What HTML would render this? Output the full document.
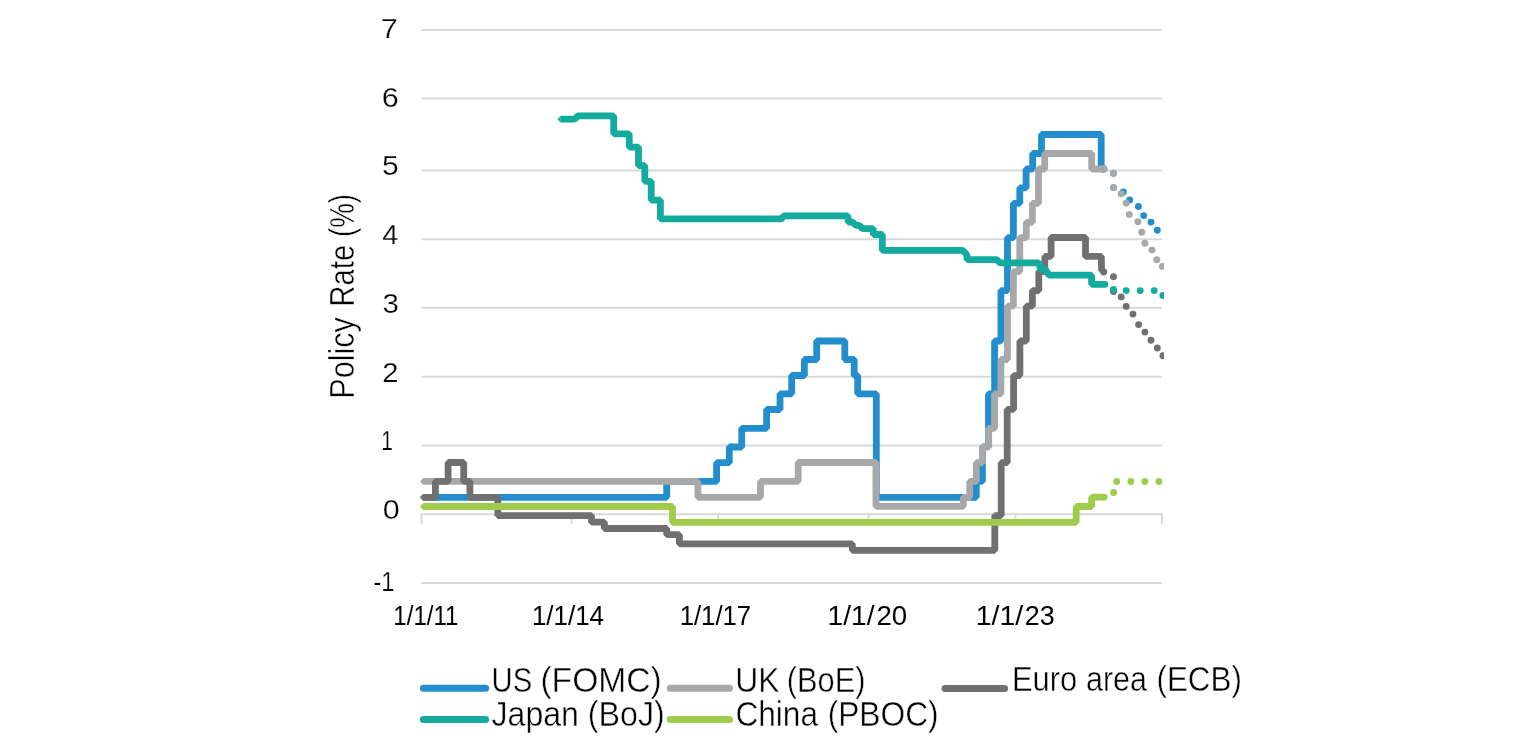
<!DOCTYPE html>
<html lang="en">
<head>
<meta charset="utf-8">
<title>Policy Rate (%)</title>
<style>
html,body{margin:0;padding:0;background:#fff;}
body{width:1539px;height:743px;overflow:hidden;}
svg{display:block;}
text{font-family:"Liberation Sans",sans-serif;fill:#000;}
.big{stroke:#fff;stroke-width:0.45px;}
.ylab{stroke:#fff;stroke-width:0.25px;}
.lab{font-size:27px;}
.big{font-size:34.5px;}
</style>
</head>
<body>
<svg width="1539" height="743" viewBox="0 0 1539 743">
<rect width="1539" height="743" fill="#fff"/>
<defs><clipPath id="plot"><rect x="410" y="0" width="754" height="640"/></clipPath></defs>
<g stroke="#D8D8D8" stroke-width="2" fill="none">
<line x1="421.5" y1="30.0" x2="1162.0" y2="30.0"/>
<line x1="421.5" y1="98.6" x2="1162.0" y2="98.6"/>
<line x1="421.5" y1="170.5" x2="1162.0" y2="170.5"/>
<line x1="421.5" y1="239.2" x2="1162.0" y2="239.2"/>
<line x1="421.5" y1="307.7" x2="1162.0" y2="307.7"/>
<line x1="421.5" y1="376.7" x2="1162.0" y2="376.7"/>
<line x1="421.5" y1="445.5" x2="1162.0" y2="445.5"/>
<line x1="421.5" y1="583.0" x2="1162.0" y2="583.0"/>
<line x1="420.5" y1="514.2" x2="1163.0" y2="514.2"/>
<line x1="421.4" y1="514.2" x2="421.4" y2="523.7"/>
<line x1="571.4" y1="514.2" x2="571.4" y2="523.7"/>
<line x1="718.2" y1="514.2" x2="718.2" y2="523.7"/>
<line x1="868.5" y1="514.2" x2="868.5" y2="523.7"/>
<line x1="1015.3" y1="514.2" x2="1015.3" y2="523.7"/>
<line x1="1162.0" y1="514.2" x2="1162.0" y2="523.7"/>
</g>
<g clip-path="url(#plot)" fill="none" stroke-width="6.8" stroke-linejoin="bevel" stroke-linecap="butt">
<path d="M423.0 497.3 L666.7 497.3 L666.7 481.4 L716.6 481.4 L716.6 462.7 L729.3 462.7 L729.3 447.0 L741.7 447.0 L741.7 428.3 L766.6 428.3 L766.6 409.5 L780.0 409.5 L780.0 393.8 L791.7 393.8 L791.7 375.5 L804.4 375.5 L804.4 359.5 L816.7 359.5 L816.7 341.0 L844.8 341.0 L844.8 359.5 L854.2 359.5 L854.2 375.5 L857.7 375.5 L857.7 393.8 L876.3 393.8 L876.3 497.3 L976.3 497.3 L976.3 481.4 L982.4 481.4 L982.4 446.9 L988.5 446.9 L988.5 393.8 L994.6 393.8 L994.6 341.0 L1000.9 341.0 L1000.9 290.6 L1007.5 290.6 L1007.5 237.7 L1013.4 237.7 L1013.4 203.3 L1019.8 203.3 L1019.8 187.9 L1026.1 187.9 L1026.1 169.0 L1032.7 169.0 L1032.7 153.5 L1041.5 153.5 L1041.5 134.5 L1101.2 134.5 L1101.2 168.9 L1103.8 168.9" stroke="#228ECE"/>
<path d="M423.2 493.9L420.0 497.3L423.2 500.7Z" fill="#228ECE" stroke="none"/><circle cx="1103.8" cy="168.9" r="3.4" fill="#228ECE" stroke="none"/>
<g fill="#228ECE" stroke="none"><circle cx="1103.8" cy="168.9" r="3.45"/><circle cx="1113.5" cy="173.3" r="3.45"/><circle cx="1113.5" cy="187.6" r="3.45"/><circle cx="1123.3" cy="192.0" r="3.45"/><circle cx="1129.7" cy="199.9" r="3.45"/><circle cx="1138.4" cy="206.5" r="3.45"/><circle cx="1143.7" cy="215.6" r="3.45"/><circle cx="1151.0" cy="222.1" r="3.45"/><circle cx="1157.3" cy="230.2" r="3.45"/></g>
<path d="M423.0 481.4 L697.9 481.4 L697.9 497.3 L760.5 497.3 L760.5 481.4 L798.2 481.4 L798.2 462.5 L876.0 462.5 L876.0 506.3 L963.4 506.3 L963.4 497.3 L969.7 497.3 L969.7 481.4 L976.3 481.4 L976.3 462.7 L982.4 462.7 L982.4 446.9 L988.7 446.9 L988.7 428.4 L994.6 428.4 L994.6 393.8 L1000.9 393.8 L1000.9 359.5 L1007.4 359.5 L1007.4 306.2 L1013.4 306.2 L1013.4 271.6 L1019.8 271.6 L1019.8 237.7 L1026.3 237.7 L1026.3 222.3 L1032.4 222.3 L1032.4 203.3 L1038.5 203.3 L1038.5 169.0 L1044.7 169.0 L1044.7 153.5 L1091.7 153.5 L1091.7 169.0 L1103.8 169.0" stroke="#A8A8AA"/>
<path d="M423.2 478.0L420.0 481.4L423.2 484.8Z" fill="#A8A8AA" stroke="none"/><circle cx="1103.8" cy="169.0" r="3.4" fill="#A8A8AA" stroke="none"/>
<g fill="#A8A8AA" stroke="none"><circle cx="1103.8" cy="168.9" r="3.45"/><circle cx="1113.5" cy="173.3" r="3.45"/><circle cx="1113.5" cy="187.6" r="3.45"/><circle cx="1121.2" cy="193.8" r="3.45"/><circle cx="1126.2" cy="203.0" r="3.45"/><circle cx="1129.3" cy="214.4" r="3.45"/><circle cx="1137.9" cy="221.8" r="3.45"/><circle cx="1141.7" cy="232.2" r="3.45"/><circle cx="1144.9" cy="243.3" r="3.45"/><circle cx="1152.0" cy="250.1" r="3.45"/><circle cx="1156.8" cy="259.7" r="3.45"/><circle cx="1162.4" cy="266.4" r="3.45"/></g>
<path d="M423.0 497.3 L435.4 497.3 L435.4 481.4 L448.1 481.4 L448.1 462.5 L463.7 462.5 L463.7 481.4 L469.9 481.4 L469.9 497.3 L497.8 497.3 L497.8 515.6 L591.5 515.6 L591.5 522.2 L604.4 522.2 L604.4 528.5 L666.7 528.5 L666.7 534.7 L679.4 534.7 L679.4 543.8 L852.3 543.8 L852.3 550.3 L994.8 550.3 L994.8 515.6 L1001.2 515.6 L1001.2 462.7 L1007.2 462.7 L1007.2 409.4 L1013.6 409.4 L1013.6 375.6 L1019.9 375.6 L1019.9 341.0 L1026.3 341.0 L1026.3 306.2 L1032.4 306.2 L1032.4 290.6 L1038.8 290.6 L1038.8 271.6 L1044.8 271.6 L1044.8 256.4 L1051.1 256.4 L1051.1 237.5 L1085.5 237.5 L1085.5 256.4 L1101.3 256.4 L1101.6 270.5 L1103.7 270.5 L1103.7 272.1" stroke="#707070"/>
<path d="M423.2 493.9L420.0 497.3L423.2 500.7Z" fill="#707070" stroke="none"/><circle cx="1103.7" cy="272.1" r="3.4" fill="#707070" stroke="none"/>
<g fill="#707070" stroke="none"><circle cx="1113.5" cy="276.8" r="3.45"/><circle cx="1113.5" cy="291.5" r="3.45"/><circle cx="1121.2" cy="296.9" r="3.45"/><circle cx="1126.2" cy="306.4" r="3.45"/><circle cx="1133.0" cy="314.1" r="3.45"/><circle cx="1138.6" cy="324.6" r="3.45"/><circle cx="1144.9" cy="332.1" r="3.45"/><circle cx="1151.0" cy="340.3" r="3.45"/><circle cx="1157.3" cy="348.0" r="3.45"/><circle cx="1162.9" cy="355.7" r="3.45"/></g>
<path d="M560.5 119.2 L574.6 119.2 L578.0 115.8 L613.6 115.8 L613.8 133.9 L629.0 133.9 L629.2 134.9 L629.2 134.9 L629.3 147.1 L638.5 147.1 L638.5 165.6 L644.8 165.6 L644.8 181.4 L651.2 181.4 L651.2 200.2 L660.4 200.2 L660.4 218.9 L781.0 218.9 L784.4 215.8 L847.9 215.8 L848.2 222.1 L852.6 222.1 L856.0 225.4 L859.5 225.4 L862.3 228.6 L873.2 228.6 L873.5 234.5 L882.3 234.5 L882.3 250.4 L962.4 250.4 L966.8 254.2 L966.9 254.2 L967.1 259.6 L996.5 259.6 L999.9 262.8 L1038.9 262.8 L1040.4 269.3 L1045.2 269.3 L1049.1 275.2 L1091.6 275.2 L1091.6 284.3 L1104.8 284.3" stroke="#12AB9D"/>
<path d="M560.7 115.8L557.5 119.2L560.7 122.6Z" fill="#12AB9D" stroke="none"/><circle cx="1104.8" cy="284.3" r="3.4" fill="#12AB9D" stroke="none"/>
<g fill="#12AB9D" stroke="none"><circle cx="1113.5" cy="289.4" r="3.45"/><circle cx="1126.2" cy="290.6" r="3.45"/><circle cx="1140.2" cy="290.6" r="3.45"/><circle cx="1154.2" cy="290.6" r="3.45"/><circle cx="1162.9" cy="295.5" r="3.45"/></g>
<path d="M423.0 506.5 L672.5 506.5 L672.5 522.3 L1076.2 522.3 L1076.2 506.5 L1091.7 506.5 L1091.7 497.1 L1104.3 497.1" stroke="#9FCD4B"/>
<path d="M423.2 503.1L420.0 506.5L423.2 509.9Z" fill="#9FCD4B" stroke="none"/><circle cx="1104.3" cy="497.1" r="3.4" fill="#9FCD4B" stroke="none"/>
<g fill="#9FCD4B" stroke="none"><circle cx="1113.6" cy="492.5" r="3.45"/><circle cx="1116.7" cy="481.5" r="3.45"/><circle cx="1130.8" cy="481.5" r="3.45"/><circle cx="1144.8" cy="481.5" r="3.45"/><circle cx="1158.9" cy="481.5" r="3.45"/></g>
</g>
<g class="lab ylab">
<text x="380.70" y="38.2" textLength="17.06" lengthAdjust="spacingAndGlyphs">7</text>
<text x="381.80" y="107.0" textLength="17.06" lengthAdjust="spacingAndGlyphs">6</text>
<text x="382.11" y="174.5" textLength="16.71" lengthAdjust="spacingAndGlyphs">5</text>
<text x="382.37" y="243.8" textLength="16.07" lengthAdjust="spacingAndGlyphs">4</text>
<text x="382.41" y="312.5" textLength="16.39" lengthAdjust="spacingAndGlyphs">3</text>
<text x="382.15" y="381.8" textLength="16.23" lengthAdjust="spacingAndGlyphs">2</text>
<text x="381.35" y="450.2" textLength="11.64" lengthAdjust="spacingAndGlyphs">1</text>
<text x="382.67" y="519.0" textLength="17.00" lengthAdjust="spacingAndGlyphs">0</text>
<text x="373.51" y="590.9" textLength="20.89" lengthAdjust="spacingAndGlyphs">-1</text>
</g>
<g class="lab">
<text y="624.9"><tspan x="393.32" textLength="65.17" lengthAdjust="spacingAndGlyphs">1/1/11</tspan></text>
<text y="624.9"><tspan x="531.88" textLength="72.12" lengthAdjust="spacingAndGlyphs">1/1/14</tspan></text>
<text y="624.9"><tspan x="679.70" textLength="71.47" lengthAdjust="spacingAndGlyphs">1/1/17</tspan></text>
<text y="624.9"><tspan x="827.62" textLength="46.83" lengthAdjust="spacingAndGlyphs">1/1/</tspan><tspan x="876.42" textLength="30.75" lengthAdjust="spacingAndGlyphs">20</tspan></text>
<text y="624.9"><tspan x="975.80" textLength="47.35" lengthAdjust="spacingAndGlyphs">1/1/</tspan><tspan x="1024.75" textLength="29.94" lengthAdjust="spacingAndGlyphs">23</tspan></text>
</g>
<text class="big" transform="translate(354.0 396.3) rotate(-90)"><tspan x="-2.44" textLength="81.67" lengthAdjust="spacingAndGlyphs">Policy</tspan> <tspan x="89.66" textLength="61.92" lengthAdjust="spacingAndGlyphs">Rate</tspan> <tspan x="159.29" textLength="43.09" lengthAdjust="spacingAndGlyphs">(%)</tspan></text>
<g fill="none" stroke-width="7" stroke-linecap="round">
<line x1="423.4" y1="688.3" x2="485.6" y2="688.3" stroke="#228ECE"/>
<line x1="670.2" y1="688.3" x2="729.5" y2="688.3" stroke="#A8A8AA"/>
<line x1="945.1" y1="688.4" x2="1004.5" y2="688.4" stroke="#707070"/>
<line x1="423.4" y1="719.5" x2="485.6" y2="719.5" stroke="#12AB9D"/>
<line x1="670.2" y1="719.5" x2="729.5" y2="719.5" stroke="#9FCD4B"/>
</g>
<g class="big">
<text y="691.6"><tspan x="491.57" textLength="40.66" lengthAdjust="spacingAndGlyphs">US</tspan> <tspan x="540.41" textLength="121.39" lengthAdjust="spacingAndGlyphs">(FOMC)</tspan></text>
<text y="691.6"><tspan x="735.16" textLength="44.35" lengthAdjust="spacingAndGlyphs">UK</tspan> <tspan x="786.79" textLength="78.66" lengthAdjust="spacingAndGlyphs">(BoE)</tspan></text>
<text y="691.4"><tspan x="1011.94" textLength="65.30" lengthAdjust="spacingAndGlyphs">Euro</tspan> <tspan x="1085.97" textLength="61.08" lengthAdjust="spacingAndGlyphs">area</tspan> <tspan x="1156.45" textLength="85.42" lengthAdjust="spacingAndGlyphs">(ECB)</tspan></text>
<text y="725.6"><tspan x="491.53" textLength="87.46" lengthAdjust="spacingAndGlyphs">Japan</tspan> <tspan x="587.80" textLength="76.94" lengthAdjust="spacingAndGlyphs">(BoJ)</tspan></text>
<text y="725.6"><tspan x="735.40" textLength="82.65" lengthAdjust="spacingAndGlyphs">China</tspan> <tspan x="827.63" textLength="111.04" lengthAdjust="spacingAndGlyphs">(PBOC)</tspan></text>
</g>
</svg>
</body>
</html>
